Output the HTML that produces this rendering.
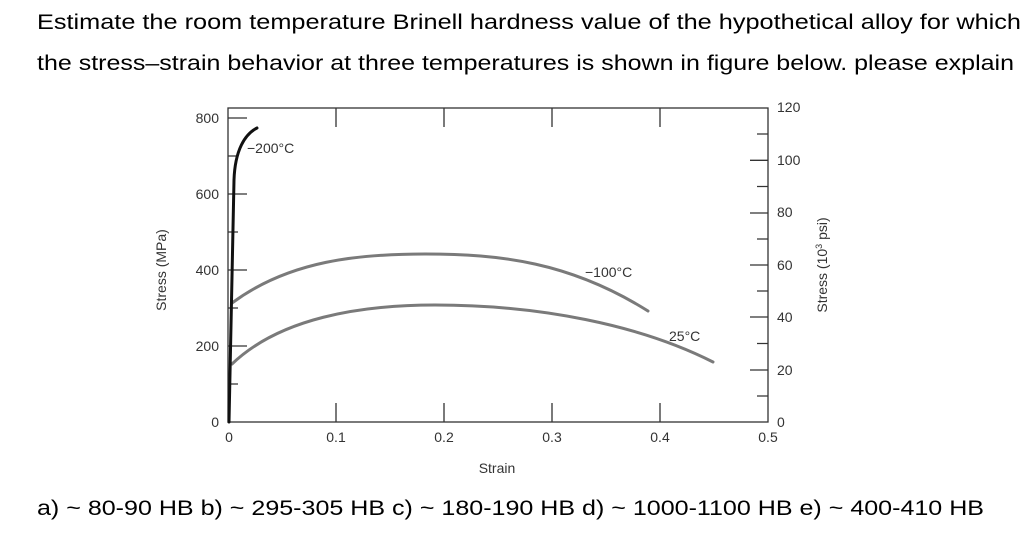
<!DOCTYPE html>
<html><head><meta charset="utf-8"><style>
html,body{margin:0;padding:0;background:#fff;}
svg{display:block;font-family:"Liberation Sans",Arial,sans-serif;}
</style></head><body>
<svg width="1024" height="535" viewBox="0 0 1024 535" xmlns="http://www.w3.org/2000/svg">
<text x="37" y="29" font-size="21" fill="#000" textLength="984" lengthAdjust="spacingAndGlyphs">Estimate the room temperature Brinell hardness value of the hypothetical alloy for which</text>
<text x="37" y="70" font-size="21" fill="#000" textLength="977" lengthAdjust="spacingAndGlyphs">the stress–strain behavior at three temperatures is shown in figure below. please explain</text>
<text x="37" y="515" font-size="21" fill="#000" textLength="947" lengthAdjust="spacingAndGlyphs">a) ~ 80-90 HB b) ~ 295-305 HB c) ~ 180-190 HB d) ~ 1000-1100 HB e) ~ 400-410 HB</text>

<g stroke="#333" stroke-width="1.3" fill="none">
<rect x="228" y="108" width="540" height="314"/>
<path d="M336 108v19M444 108v19M552 108v19M660 108v19M336 422v-19M444 422v-19M552 422v-19M660 422v-19"/>
<path d="M228 118h19M228 194h19M228 270h19M228 346h19M228 156h10M228 232h10M228 308h10M228 384h10"/>
<path d="M768 160.3h-18M768 213h-18M768 265h-18M768 317h-18M768 370h-18M768 134h-11M768 186.5h-11M768 239h-11M768 291h-11M768 343.5h-11M768 396h-11"/>
</g>
<g font-size="14" fill="#333">
<g text-anchor="end">
<text x="219" y="123">800</text><text x="219" y="199">600</text><text x="219" y="275">400</text><text x="219" y="351">200</text><text x="219" y="427">0</text>
</g>
<g text-anchor="middle">
<text x="229" y="442">0</text><text x="336" y="442">0.1</text><text x="444" y="442">0.2</text><text x="552" y="442">0.3</text><text x="660" y="442">0.4</text><text x="768" y="442">0.5</text>
</g>
<text x="777" y="112">120</text><text x="777" y="165">100</text><text x="777" y="217">80</text><text x="777" y="270">60</text><text x="777" y="322">40</text><text x="777" y="375">20</text><text x="777" y="427">0</text>
<text x="497" y="473" text-anchor="middle">Strain</text>
<text transform="translate(166,270) rotate(-90)" text-anchor="middle">Stress (MPa)</text>
<text transform="translate(827,265) rotate(-90)" text-anchor="middle">Stress (10<tspan font-size="9" dy="-5">3</tspan><tspan dy="5"> psi)</tspan></text>
<text x="247" y="153">−200°C</text>
<text x="585" y="277">−100°C</text>
<text x="669" y="341">25°C</text>
</g>
<g fill="none" stroke-linecap="round">
<path d="M232 303 C290 260 360 254 425 254 C500 254 570 262 648 311" stroke="#7a7a7a" stroke-width="3"/>
<path d="M232 364 C280 318 360 305 435 305 C540 305 640 325 713 362" stroke="#7a7a7a" stroke-width="3"/>
<path d="M229 422 L234 180 C235 150 245 134 257 128" stroke="#111" stroke-width="3"/>
</g>
</svg>
</body></html>
